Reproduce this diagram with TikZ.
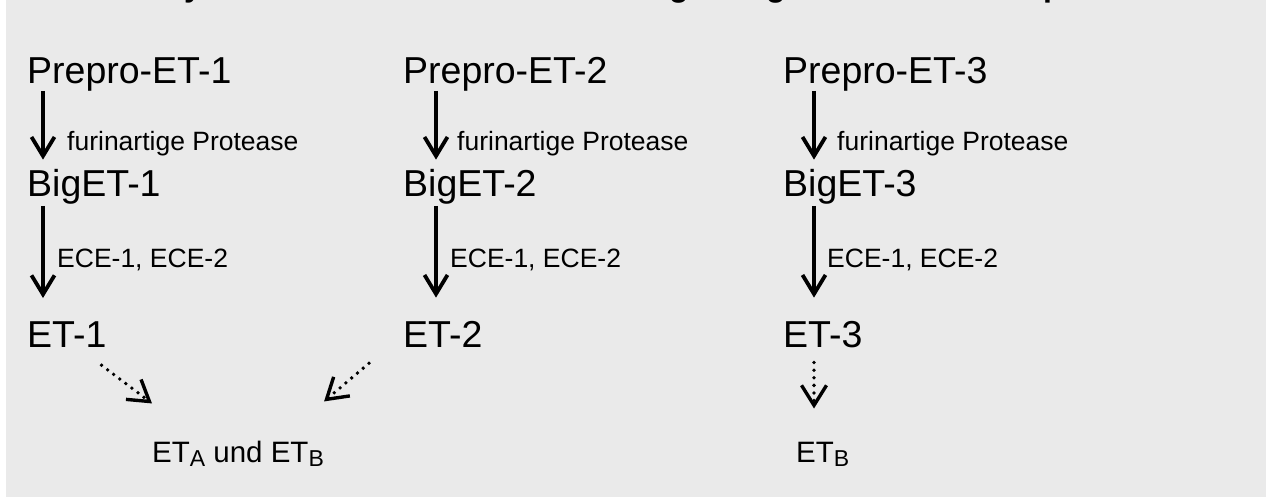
\documentclass[tikz,border=0pt]{standalone}
\usepackage{fontspec}
\setmainfont{Liberation Sans}
\usetikzlibrary{arrows.meta}
\definecolor{panel}{RGB}{234,234,234}
\newcommand{\mysub}[1]{\raisebox{-4.5pt}{\fontsize{23pt}{23pt}\selectfont #1}}
\begin{document}
\begin{tikzpicture}[x=1pt,y=-1pt,
  big/.style={anchor=base west, inner sep=0pt, font=\fontsize{37.5pt}{40pt}\selectfont},
  lab/.style={anchor=base west, inner sep=0pt, font=\fontsize{26.5pt}{28pt}\selectfont},
  fin/.style={anchor=base west, inner sep=0pt, font=\fontsize{29.5pt}{31pt}\selectfont},
  ttl/.style={anchor=base, inner sep=0pt, font=\fontsize{32pt}{34pt}\selectfont\bfseries},
  conv/.style={line width=3.8pt, -{Straight Barb[length=19pt,width=23pt]}},
  bind/.style={line width=3.8pt, line cap=round, dash pattern=on 0pt off 7.6pt,
    -{Straight Barb[length=20pt,width=25pt,line width=3.4pt]}}
]
\useasboundingbox (0,0) rectangle (1266,499);
\fill[panel] (6,0) rectangle (1266,497);
% cut-off title (only descenders visible)
\begin{scope}
  \clip (6,0) rectangle (1266,497);
  \node[ttl] (t1) at (193,-3.5) {y};
  \node[ttl] (t2) at (679,-3.5) {g};
  \node[ttl] (t3) at (776,-3.5) {g};
  \node[ttl] (t4) at (1053,-3.5) {p};
\end{scope}
% precursors
\node[big] (p1) at (27,83) {Prepro-ET-1};
\node[big] (p2) at (403,83) {Prepro-ET-2};
\node[big] (p3) at (783,83) {Prepro-ET-3};
\node[big] (b1) at (27,196) {BigET-1};
\node[big] (b2) at (403,196) {BigET-2};
\node[big] (b3) at (783,196) {BigET-3};
\node[big] (e1) at (27,347) {ET-1};
\node[big] (e2) at (403,347) {ET-2};
\node[big] (e3) at (783,347) {ET-3};
% receptors
\node[fin] (r12) at (152,462) {ET\mysub{A} und ET\mysub{B}};
\node[fin] (r3) at (796,462) {ET\mysub{B}};
% enzyme labels
\node[lab] (f1) at (67,150) {furinartige Protease};
\node[lab] (f2) at (457,150) {furinartige Protease};
\node[lab] (f3) at (837,150) {furinartige Protease};
\node[lab] (c1) at (57,267) {ECE-1, ECE-2};
\node[lab] (c2) at (450,267) {ECE-1, ECE-2};
\node[lab] (c3) at (827,267) {ECE-1, ECE-2};
% conversion arrows
\draw[conv] ([shift={(16,0)}]p1.south west) -- ([shift={(16,-9)}]b1.north west);
\draw[conv] ([shift={(33,0)}]p2.south west) -- ([shift={(33,-9)}]b2.north west);
\draw[conv] ([shift={(31,0)}]p3.south west) -- ([shift={(31,-9)}]b3.north west);
\draw[conv] ([shift={(16,2)}]b1.south west) -- ([shift={(16,-23)}]e1.north west);
\draw[conv] ([shift={(33,2)}]b2.south west) -- ([shift={(33,-23)}]e2.north west);
\draw[conv] ([shift={(31,2)}]b3.south west) -- ([shift={(31,-23)}]e3.north west);
% binding arrows
\draw[bind] ([shift={(-5,18)}]e1.south east) -- ([shift={(0,-37)}]r12.north west);
\draw[bind] ([shift={(-34,16)}]e2.south west) -- ([shift={(0,-39)}]r12.north east);
\draw[bind] ([shift={(31,15)}]e3.south west) -- ([shift={(18,-33)}]r3.north west);
\end{tikzpicture}
\end{document}
